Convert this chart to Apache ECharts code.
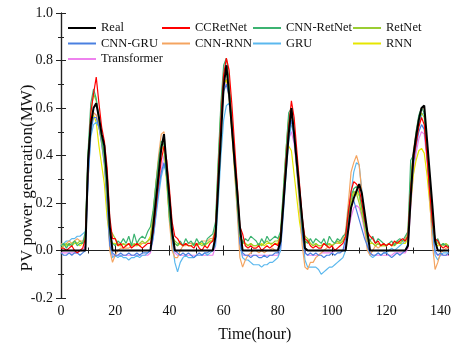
<!DOCTYPE html>
<html>
<head>
<meta charset="utf-8">
<script src="https://cdn.jsdelivr.net/npm/echarts@6/dist/echarts.min.js"></script>
<style>html,body{margin:0;padding:0;background:#fff;}#c{width:454px;height:348px;}</style>
</head>
<body>
<div id="c"></div>
<script>
var seriesNames = ['Real','CCRetNet','CNN-RetNet','RetNet','CNN-GRU','CNN-RNN','GRU','RNN','Transformer'];
var xTicks = [0,20,40,60,80,100,120,140];

var real = [
0,0,0,0,0,0,0,0,0, 0,0.38,0.53,0.60,0.62,0.56,0.49,0.44,0.30,0.10,0, 0,0,0,0,
0,0,0,0,0,0,0,0,0, 0,0.10,0.21,0.32,0.43,0.49,0.35,0.22,0.08,0,0, 0,0,0,0,
0,0,0,0,0,0,0,0,0, 0.06,0.27,0.48,0.69,0.78,0.66,0.52,0.38,0.25,0.10,0, 0,0,0,0,
0,0,0,0,0,0,0,0,0, 0.04,0.19,0.34,0.49,0.60,0.49,0.37,0.25,0.13,0.01,0, 0,0,0,0,
0,0,0,0,0,0,0,0,0, 0,0.09,0.18,0.22,0.25,0.28,0.24,0.16,0.08,0,0, 0,0,0,0,
0,0,0,0,0,0,0,0, 0.02,0.22,0.40,0.48,0.55,0.60,0.61,0.47,0.33,0.19,0.04,0, 0,0,0,0];

var ccretnet = [
0.01,0.01,0,0.01,0.02,0,-0.01,0,0.01, 0.05,0.35,0.58,0.66,0.73,0.62,0.52,0.46,0.35,0.14,0.05, 0.05,0.02,0.03,0.01,
0.02,0.03,0.01,0.02,0.03,0.02,0.01,0.02,0.03, 0.03,0.08,0.18,0.29,0.38,0.44,0.38,0.26,0.12,0.06,0.05, 0.03,0.02,0.03,0.02,
0.02,0.01,0.03,0.01,0,0.02,0.01,0.03,0.04, 0.08,0.32,0.55,0.74,0.81,0.76,0.62,0.45,0.28,0.10,0.07, 0.02,0.01,0.02,0.01,
0.01,0.02,0,0.01,0.02,0.01,0.02,0.03,0.02, 0.06,0.20,0.38,0.52,0.63,0.56,0.42,0.28,0.14,0.05,0.04, 0.02,0.01,0.02,0.01,
0.01,0.03,0.02,0.01,0.02,0,0.01,0.02,0.03, 0.06,0.16,0.25,0.29,0.28,0.26,0.20,0.13,0.08,0.06,0.05, 0.03,0.04,0.02,0.03,
0.02,0.03,0.02,0.04,0.03,0.04,0.05,0.04, 0.06,0.26,0.38,0.45,0.52,0.56,0.53,0.40,0.25,0.12,0.05,0.04, 0.02,0.01,0.02,0.01];

var cnnretnet = [
0.02,0.03,0.01,0.03,0.02,0.04,0.02,0.03,0.03, 0.08,0.42,0.62,0.68,0.64,0.56,0.47,0.40,0.26,0.07,0.03, 0.02,0.04,0.03,0.05,
0.03,0.06,0.02,0.07,0.03,0.05,0.06,0.05,0.08, 0.10,0.17,0.28,0.38,0.46,0.45,0.30,0.14,0.05,0.03,0.02, 0.04,0.02,0.05,0.03,
0.04,0.02,0.05,0.03,0.04,0.02,0.05,0.06,0.07, 0.12,0.38,0.62,0.78,0.81,0.72,0.56,0.39,0.22,0.07,0.03, 0.05,0.04,0.06,0.05,
0.04,0.02,0.05,0.03,0.06,0.04,0.05,0.06,0.05, 0.08,0.25,0.42,0.58,0.60,0.50,0.37,0.24,0.10,0.04,0.03, 0.05,0.03,0.05,0.04,
0.03,0.05,0.02,0.06,0.04,0.03,0.05,0.04,0.06, 0.07,0.17,0.23,0.26,0.27,0.24,0.18,0.12,0.06,0.04,0.06, 0.03,0.05,0.04,0.03,
0.02,0.03,0.04,0.02,0.04,0.05,0.04,0.06, 0.08,0.38,0.40,0.50,0.57,0.60,0.58,0.44,0.28,0.12,0.03,0.05, 0.02,0.03,0.02,0.02];

var retnet = [
0.01,0.02,0.03,0.02,0.03,0.04,0.03,0.04,0.03, 0.06,0.40,0.58,0.66,0.63,0.55,0.46,0.38,0.24,0.09,0.07, 0.05,0.03,0.02,0.03,
0.02,0.03,0.02,0.03,0.02,0.03,0.04,0.03,0.04, 0.05,0.13,0.25,0.36,0.44,0.45,0.32,0.16,0.06,0.04,0.03, 0.03,0.02,0.03,0.02,
0.02,0.03,0.02,0.03,0.02,0.03,0.03,0.04,0.04, 0.09,0.36,0.60,0.74,0.77,0.70,0.54,0.37,0.20,0.06,0.04, 0.03,0.02,0.03,0.02,
0.02,0.03,0.02,0.03,0.04,0.03,0.03,0.04,0.04, 0.07,0.24,0.42,0.56,0.59,0.49,0.36,0.23,0.10,0.06,0.05, 0.03,0.02,0.03,0.02,
0.02,0.03,0.02,0.03,0.02,0.03,0.04,0.03,0.04, 0.06,0.15,0.21,0.25,0.24,0.20,0.15,0.10,0.05,0.04,0.03, 0.02,0.03,0.02,0.02,
0.02,0.03,0.02,0.03,0.04,0.03,0.04,0.04, 0.07,0.30,0.40,0.48,0.55,0.58,0.56,0.42,0.27,0.11,0.04,0.03, 0.02,0.02,0.03,0.02];

var cnngru = [
-0.01,-0.02,-0.02,-0.01,-0.02,-0.01,-0.01,-0.02,-0.01, 0,0.30,0.50,0.56,0.56,0.52,0.45,0.36,0.20,0.02,-0.01, -0.02,-0.02,-0.01,-0.02,
-0.02,-0.01,-0.02,-0.02,-0.01,-0.02,-0.01,-0.01,-0.01, 0,0.06,0.16,0.26,0.33,0.37,0.31,0.17,0.05,0,-0.01, -0.02,-0.01,-0.02,-0.01,
-0.02,-0.03,-0.02,-0.01,-0.02,-0.01,-0.01,0,0, 0.04,0.30,0.52,0.67,0.70,0.65,0.52,0.36,0.19,0.03,-0.01, -0.02,-0.02,-0.03,-0.02,
-0.02,-0.03,-0.03,-0.02,-0.03,-0.02,-0.02,-0.01,-0.01, 0.02,0.18,0.35,0.50,0.55,0.47,0.34,0.21,0.07,-0.01,-0.02, -0.01,-0.02,-0.01,-0.02,
-0.02,-0.03,-0.02,-0.02,-0.01,-0.02,-0.01,-0.01,0, 0.05,0.15,0.24,0.21,0.17,0.13,0.09,0.05,0.02,-0.01,-0.02, -0.02,-0.01,-0.02,-0.01,
-0.01,-0.02,-0.03,-0.02,-0.01,-0.02,-0.01,0, 0.03,0.22,0.36,0.44,0.50,0.53,0.51,0.40,0.25,0.10,0,-0.02, -0.01,-0.02,-0.02,-0.01];

var cnnrnn = [
0.03,0.02,0.03,0.04,0.03,0.04,0.05,0.04,0.04, 0.06,0.40,0.55,0.58,0.57,0.52,0.46,0.40,0.22,0,-0.05, -0.02,0,0.01,0.01,
0.01,0.01,0.02,0.02,0.02,0.03,0.03,0.03,0.04, 0.05,0.15,0.28,0.40,0.49,0.50,0.32,0.12,0,-0.03,-0.03, 0,0.02,0.02,0.03,
0.03,0.03,0.03,0.03,0.04,0.04,0.04,0.05,0.05, 0.10,0.34,0.57,0.72,0.75,0.68,0.52,0.34,0.16,-0.03,-0.07, -0.04,-0.02,-0.01,0,
0,-0.01,0,-0.01,0,0,0.01,0,0, 0.05,0.22,0.40,0.55,0.59,0.48,0.34,0.18,0.02,-0.07,-0.08, -0.05,-0.05,-0.03,-0.02,
-0.01,0,0.01,0.02,0.02,0.03,0.03,0.04,0.05, 0.08,0.20,0.33,0.37,0.40,0.36,0.24,0.10,0,-0.02,0, 0.02,0.01,0.02,0.03,
0.02,0.03,0.02,0.03,0.03,0.04,0.04,0.05, 0.08,0.30,0.42,0.50,0.56,0.60,0.60,0.44,0.22,0.03,-0.08,-0.05, -0.01,0,0.01,0.01];

var gru = [
0.02,0.03,0.04,0.04,0.05,0.05,0.06,0.06,0.07, 0.08,0.30,0.48,0.53,0.54,0.52,0.47,0.40,0.25,0.02,-0.03, -0.02,-0.03,-0.02,-0.03,
-0.03,-0.04,-0.03,-0.03,-0.02,-0.03,-0.02,-0.02,-0.01, 0,0.05,0.14,0.23,0.31,0.36,0.33,0.20,0.04,-0.05,-0.09, -0.05,-0.03,-0.02,-0.03,
-0.03,-0.03,-0.02,-0.02,-0.02,-0.01,-0.02,-0.01,0, 0.02,0.20,0.40,0.55,0.61,0.62,0.54,0.40,0.22,0.02,-0.03, -0.04,-0.04,-0.05,-0.06,
-0.06,-0.06,-0.07,-0.06,-0.06,-0.05,-0.05,-0.04,-0.03, 0,0.15,0.32,0.46,0.53,0.50,0.38,0.24,0.08,-0.04,-0.07, -0.07,-0.07,-0.07,-0.08,
-0.10,-0.09,-0.08,-0.07,-0.07,-0.06,-0.05,-0.04,-0.03, 0,0.12,0.24,0.33,0.37,0.36,0.25,0.12,0.02,-0.02,-0.03, -0.02,-0.01,-0.02,-0.01,
-0.01,0,0.01,0,0.01,0.02,0.03,0.04, 0.06,0.26,0.40,0.48,0.53,0.57,0.58,0.45,0.28,0.10,-0.02,-0.04, -0.02,-0.01,-0.01,-0.01];

var rnn = [
0.02,0.03,0.02,0.03,0.02,0.03,0.03,0.02,0.03, 0.05,0.38,0.53,0.57,0.54,0.44,0.36,0.28,0.14,0.04,0.03, 0.03,0.02,0.02,0.03,
0.02,0.03,0.02,0.02,0.03,0.02,0.03,0.03,0.04, 0.06,0.16,0.28,0.38,0.44,0.42,0.28,0.13,0.04,0.03,0.02, 0.03,0.02,0.03,0.02,
0.02,0.03,0.02,0.03,0.03,0.02,0.03,0.04,0.04, 0.08,0.34,0.57,0.70,0.72,0.64,0.50,0.34,0.18,0.05,0.03, 0.03,0.02,0.03,0.02,
0.02,0.02,0.03,0.02,0.03,0.03,0.02,0.03,0.03, 0.06,0.22,0.40,0.44,0.42,0.32,0.22,0.12,0.05,0.03,0.04, 0.03,0.02,0.03,0.02,
0.02,0.03,0.02,0.03,0.02,0.03,0.03,0.03,0.04, 0.06,0.14,0.20,0.24,0.25,0.23,0.17,0.10,0.04,0.03,0.03, 0.02,0.03,0.02,0.02,
0.02,0.03,0.02,0.02,0.03,0.03,0.03,0.03, 0.05,0.20,0.32,0.38,0.42,0.43,0.41,0.32,0.20,0.08,0.03,0.02, 0.02,0.03,0.02,0.02];

var transformer = [
-0.01,-0.01,-0.01,-0.01,-0.01,-0.01,-0.01,0,0, 0.02,0.32,0.52,0.58,0.57,0.52,0.45,0.37,0.22,0.04,-0.02, -0.02,-0.02,-0.02,-0.02,
-0.02,-0.02,-0.02,-0.02,-0.02,-0.02,-0.02,-0.02,-0.02, -0.01,0.05,0.15,0.26,0.34,0.40,0.36,0.22,0.07,-0.01,-0.02, -0.02,-0.02,-0.02,-0.02,
-0.02,-0.02,-0.02,-0.02,-0.02,-0.02,-0.02,-0.02,-0.02, 0.02,0.28,0.52,0.68,0.72,0.67,0.53,0.37,0.20,0.03,-0.02, -0.02,-0.02,-0.02,-0.02,
-0.02,-0.02,-0.02,-0.02,-0.02,-0.02,-0.02,-0.02,-0.02, 0,0.16,0.33,0.47,0.50,0.45,0.34,0.21,0.07,-0.01,-0.02, -0.02,-0.02,-0.02,-0.02,
-0.01,-0.01,-0.01,-0.01,-0.01,0,0,0,0, 0.02,0.08,0.14,0.18,0.19,0.18,0.14,0.08,0.02,-0.01,-0.02, -0.02,-0.02,-0.02,-0.02,
-0.02,-0.02,-0.02,-0.01,-0.01,-0.01,-0.01,-0.01, 0.01,0.18,0.32,0.41,0.47,0.50,0.49,0.38,0.24,0.09,-0.01,-0.02, -0.02,-0.02,-0.02,-0.02];

var colors = {
  'Real':'#000000','CCRetNet':'#ff0000','CNN-RetNet':'#3cb371','RetNet':'#9acd32',
  'CNN-GRU':'#4a80e0','CNN-RNN':'#f4a460','GRU':'#5bb8ee','RNN':'#e6e600','Transformer':'#ee82ee'
};
var values = {
  'Real':real,'CCRetNet':ccretnet,'CNN-RetNet':cnnretnet,'RetNet':retnet,'CNN-GRU':cnngru,
  'CNN-RNN':cnnrnn,'GRU':gru,'RNN':rnn,'Transformer':transformer
};
var drawOrder = ['Transformer','RNN','GRU','CNN-RNN','CNN-GRU','RetNet','CNN-RetNet','CCRetNet','Real'];

var FONT = '"Liberation Serif","Times New Roman",serif';
var series = drawOrder.map(function(n){
  return {
    name:n, type:'line', symbol:'none', smooth:false,
    color: colors[n],
    lineStyle:{width: n==='Real'?2:1.2, color: colors[n]},
    data: values[n].map(function(v,i){return [i,v];}),
    silent:true, animation:false
  };
});

function legendCol(left, names){
  return {
    data: names, orient:'vertical', left:left, top:20.5, padding:0, itemGap:0.5,
    icon:'rect', itemWidth:28, itemHeight:2, selectedMode:false,
    textStyle:{fontFamily:FONT, fontSize:12.5, color:'#111', lineHeight:15}
  };
}

var axisCommon = {
  axisLine:{show:true, lineStyle:{color:'#222', width:1.2}},
  axisTick:{show:true, inside:true, length:5, lineStyle:{color:'#222'}},
  minorTick:{show:true, splitNumber:2, length:3, lineStyle:{color:'#222'}},
  splitLine:{show:false}
};

var chart = echarts.init(document.getElementById('c'), null, {renderer:'canvas'});
chart.setOption({
  animation:false,
  backgroundColor:'#fff',
  grid:{left:61, right:1, top:13, bottom:48, containLabel:false},
  legend:[
    legendCol(68, ['Real','CNN-GRU','Transformer']),
    legendCol(162, ['CCRetNet','CNN-RNN']),
    legendCol(253, ['CNN-RetNet','GRU']),
    legendCol(353, ['RetNet','RNN'])
  ],
  xAxis:[
    Object.assign({}, axisCommon, {
      type:'value', min:0, max:143, interval:20, position:'bottom',
      name:'Time(hour)', nameLocation:'middle', nameGap:29,
      nameTextStyle:{fontFamily:FONT, fontSize:16, color:'#111'},
      axisLabel:{fontFamily:FONT, fontSize:14, color:'#111', margin:6, showMaxLabel:false,
        formatter:function(v){ return xTicks.indexOf(v)>=0 ? String(v) : ''; }}
    }),
    Object.assign({}, axisCommon, {
      type:'value', min:0, max:143, interval:20, position:'top',
      axisLabel:{show:false}
    })
  ],
  yAxis:[
    Object.assign({}, axisCommon, {
      type:'value', min:-0.2, max:1.0, interval:0.2, position:'left',
      axisLabel:{fontFamily:FONT, fontSize:14, color:'#111', margin:8,
        formatter:function(v){ return v.toFixed(1); }}
    }),
    Object.assign({}, axisCommon, {
      type:'value', min:-0.2, max:1.0, interval:0.2, position:'right',
      axisLabel:{show:false}
    })
  ],
  graphic:[{
    type:'text', x:28, y:178, rotation:Math.PI/2,
    style:{text:'PV power generation(MW)', font:'17px "Liberation Serif"', fill:'#111',
      align:'center', verticalAlign:'middle'}
  }],
  series: series
});
</script>
</body>
</html>
